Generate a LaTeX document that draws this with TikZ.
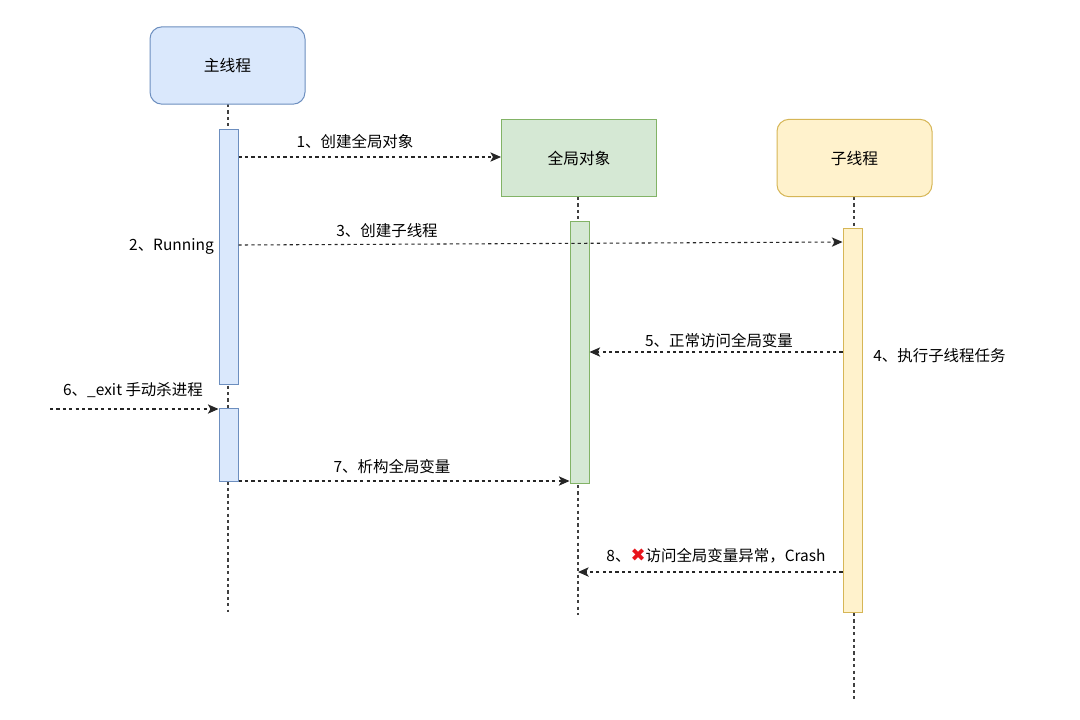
\documentclass[tikz,border=0pt]{standalone}
\usepackage{fontspec}
\setmainfont{Noto Sans CJK SC}
\newfontfamily\symfont{DejaVu Sans}
\usetikzlibrary{arrows.meta}
\definecolor{bluefill}{HTML}{DAE8FC}
\definecolor{bluedraw}{HTML}{6C8EBF}
\definecolor{greenfill}{HTML}{D5E8D4}
\definecolor{greendraw}{HTML}{82B366}
\definecolor{yellowfill}{HTML}{FFF2CC}
\definecolor{yellowdraw}{HTML}{D6B656}
\definecolor{crossred}{HTML}{E8141B}
\tikzset{
  lbl/.style={font=\fontsize{11.6}{13}\selectfont, inner sep=0pt},
  headbox/.style={minimum width=116.25pt, minimum height=58pt, inner sep=0pt, line width=0.75pt, font=\fontsize{11.8}{13}\selectfont},
  barbox/.style={minimum width=14.25pt, inner sep=0pt, line width=0.75pt},
  life/.style={dash pattern=on 2.4pt off 2.4pt, line width=0.8pt, draw=black!75},
  msg/.style={dash pattern=on 2.4pt off 2.4pt, line width=0.8pt, draw=black!85, -{Stealth[length=8pt,width=7pt,inset=2pt]}},
}
\begin{document}
\begin{tikzpicture}[x=0.75pt,y=-0.75pt]
\path[use as bounding box, fill=white] (0,0) rectangle (1080,719);

% lifelines
\coordinate (mtop) at (228,104);
\coordinate (mbot) at (228,612);
\coordinate (gtop) at (578,197);
\coordinate (gbot) at (578,615);
\coordinate (ctop) at (854,197);
\coordinate (cbot) at (854,700);
\draw[life] (mtop) -- (mbot);
\draw[life] (gtop) -- (gbot);
\draw[life] (ctop) -- (cbot);

% header boxes
\node[headbox, rounded corners=9pt, fill=bluefill, draw=bluedraw] (main) at (227.5,65.5) {主线程};
\node[headbox, fill=greenfill, draw=greendraw] (glob) at (579,158) {全局对象};
\node[headbox, rounded corners=9pt, fill=yellowfill, draw=yellowdraw] (child) at (854.5,158) {子线程};

% activation bars
\node[barbox, minimum height=191.25pt, fill=bluefill, draw=bluedraw] (mb1) at (228.5,256.5) {};
\node[barbox, minimum height=54.75pt, fill=bluefill, draw=bluedraw] (mb2) at (228.5,444.5) {};
\node[barbox, minimum height=196.5pt, fill=greenfill, draw=greendraw] (gb) at (579.5,352) {};
\node[barbox, minimum height=288pt, fill=yellowfill, draw=yellowdraw] (cb) at (852.5,420) {};

% messages
\draw[msg] (mb1.east |- 0,157) -- (glob.west |- 0,157);
\node[lbl] (l1) at (355,142) {1、创建全局对象};

\node[lbl, anchor=east] (l2) at (214,246) {2、Running};

\draw[msg] (mb1.east |- 0,245) -- (cb.west |- 0,242);
\node[lbl] (l3) at (387,231) {3、创建子线程};

\node[lbl, anchor=west] (l4) at (873,356) {4、执行子线程任务};

\draw[msg] (cb.west |- 0,352) -- (gb.east |- 0,352);
\node[lbl] (l5) at (719,341) {5、正常访问全局变量};

\coordinate (ext) at (50,409);
\draw[msg] (ext) -- (mb2.west |- 0,409);
\node[lbl] (l6) at (133,390) {6、\_exit 手动杀进程};

\draw[msg] (mb2.east |- 0,481) -- (gb.west |- 0,481);
\node[lbl] (l7) at (392,467) {7、析构全局变量};

\draw[msg] (cb.west |- 0,572) -- (gbot |- 0,572);
\node[lbl] (l8) at (716,556) {8、{\symfont\color{crossred}\fontsize{13.5}{13}\selectfont ✖}访问全局变量异常，Crash};
\end{tikzpicture}
\end{document}
